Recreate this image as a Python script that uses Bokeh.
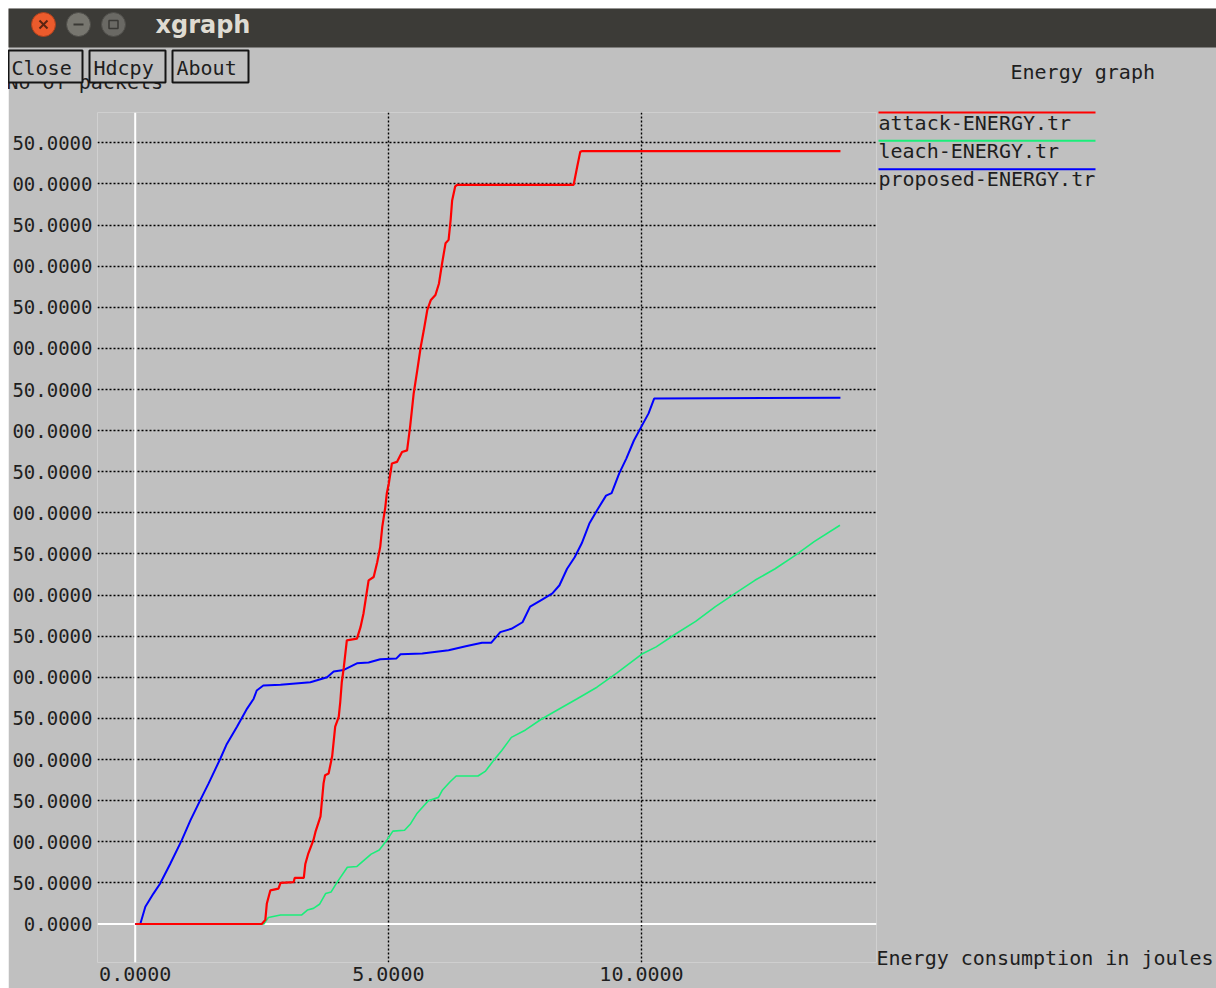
from bokeh.plotting import figure
from bokeh.models import Range1d, FixedTicker, Span
from bokeh.core.properties import value
from bokeh.embed import file_html
from bokeh.resources import INLINE

# ---------------- data ----------------
attack_x = [0, 2.50, 2.57, 2.60, 2.67, 2.83, 2.87, 3.13, 3.15, 3.33, 3.36, 3.42, 3.52, 3.56,
            3.66, 3.69, 3.72, 3.75, 3.82, 3.89, 3.95, 4.02, 4.05, 4.08, 4.12, 4.18, 4.38,
            4.45, 4.51, 4.55, 4.61, 4.71, 4.78, 4.84, 4.88, 4.94, 4.97, 5.01, 5.07, 5.17,
            5.27, 5.37, 5.43, 5.50, 5.57, 5.64, 5.70, 5.77, 5.84, 5.93, 6.00, 6.06, 6.13,
            6.19, 6.23, 6.26, 6.32, 6.36, 8.66, 8.73, 8.79, 8.83, 13.93]
attack_y = [0, 0, 5, 25, 41, 43, 50, 51, 56, 56, 73, 86, 102, 112,
            131, 151, 171, 181, 183, 204, 240, 252, 270, 294, 312, 345, 347,
            361, 378, 394, 418, 422, 440, 459, 483, 507, 524, 536, 560, 562,
            574, 576, 605, 645, 673, 702, 722, 747, 759, 765, 779, 803, 828,
            832, 856, 880, 897, 899, 899, 921, 939, 940, 940]

leach_x = [0, 2.54, 2.63, 2.87, 3.29, 3.40, 3.52, 3.64, 3.76, 3.87, 3.99, 4.19, 4.38,
           4.66, 4.82, 4.97, 5.09, 5.32, 5.44, 5.56, 5.79, 5.99, 6.07, 6.22, 6.34, 6.77,
           6.92, 7.08, 7.24, 7.43, 7.71, 8.02, 8.33, 8.73, 9.12, 9.51, 10.00, 10.29,
           10.68, 11.07, 11.46, 11.85, 12.24, 12.64, 13.03, 13.41, 13.92]
leach_y = [0, 0, 8, 11, 11, 17, 19, 24, 37, 39, 51, 69, 70,
           85, 90, 102, 113, 114, 122, 134, 150, 154, 163, 173, 180, 180,
           186, 199, 211, 227, 236, 249, 260, 274, 288, 305, 328, 337,
           353, 368, 386, 402, 418, 432, 448, 465, 485]

proposed_x = [0, 0.10, 0.20, 0.36, 0.49, 0.69, 0.92, 1.09, 1.28, 1.45, 1.68, 1.81, 2.01,
              2.21, 2.34, 2.40, 2.53, 2.87, 3.46, 3.79, 3.92, 4.12, 4.38, 4.61, 4.84, 5.16,
              5.24, 5.67, 6.19, 6.55, 6.85, 7.03, 7.21, 7.43, 7.65, 7.80, 8.02, 8.24, 8.38,
              8.53, 8.68, 8.82, 8.97, 9.12, 9.30, 9.41, 9.56, 9.70, 9.85, 9.99, 10.14,
              10.25, 13.93]
proposed_y = [0, 0, 21, 37, 49, 73, 102, 126, 150, 171, 201, 219, 240,
              262, 274, 284, 290, 291, 294, 300, 307, 309, 317, 318, 322, 323,
              328, 329, 333, 338, 342, 342, 355, 359, 367, 386, 394, 402, 412,
              432, 446, 463, 487, 503, 521, 524, 548, 566, 588, 604, 621,
              639, 640]

series_names = ["attack-ENERGY.tr", "leach-ENERGY.tr", "proposed-ENERGY.tr"]
series_colors = ["#ff0000", "#1aee7a", "#0000ff"]

x_ticks = [0, 5, 10]
x_tick_labels = ["0.0000", "5.0000", "10.0000"]
y_ticks = [0, 50, 100, 150, 200, 250, 300, 350, 400, 450,
           500, 550, 600, 650, 700, 750, 800, 850, 900, 950]
y_tick_labels = ["0.0000", "50.0000", "00.0000", "50.0000", "00.0000", "50.0000",
                 "00.0000", "50.0000", "00.0000", "50.0000", "00.0000", "50.0000",
                 "00.0000", "50.0000", "00.0000", "50.0000", "00.0000", "50.0000",
                 "00.0000", "50.0000"]

window_title = "xgraph"
button_labels = ["Close", "Hdcpy", "About"]
y_axis_title = "No of packets"
x_axis_title = "Energy consumption in joules"
chart_title = "Energy graph"

# ---------------- layout / style ----------------
W, H = 1208, 980
FL, FR, FT, FB = 89, 868, 104, 954          # frame edges in canvas pixels
BG = "#c0c0c0"
INK = "#1e1e1e"
MONO = "DejaVu Sans Mono"
FS = "20px"
TY = -8                                      # text baseline correction

p = figure(width=W, height=H,
           x_range=Range1d(-0.745, 14.642), y_range=Range1d(-46.8, 986.9),
           output_backend="svg", toolbar_location=None,
           min_border_left=FL, min_border_right=W - FR,
           min_border_top=FT, min_border_bottom=H - FB,
           background_fill_color=BG, border_fill_color=BG,
           outline_line_color=None,
           styles={"margin-left": "8px", "margin-top": "8px"})

for ax in (p.xaxis, p.yaxis):
    ax.axis_line_color = None
    ax.major_tick_line_color = None
    ax.minor_tick_line_color = None
    ax.major_tick_in = 0
    ax.major_tick_out = 0
    ax.major_label_text_font = MONO
    ax.major_label_text_color = INK

p.xaxis.ticker = FixedTicker(ticks=x_ticks)
p.xaxis.major_label_overrides = dict(zip(x_ticks, x_tick_labels))
p.xaxis.major_label_standoff = 4
p.xaxis.major_label_text_font_size = FS
p.yaxis.ticker = FixedTicker(ticks=y_ticks)
p.yaxis.major_label_overrides = dict(zip(y_ticks, y_tick_labels))
p.yaxis.major_label_standoff = 5
p.yaxis.major_label_text_font_size = "19px"

p.xgrid.ticker = FixedTicker(ticks=[t for t in x_ticks if t != 0])
p.ygrid.ticker = FixedTicker(ticks=[t for t in y_ticks if t != 0])
p.grid.grid_line_color = "#000000"
p.grid.grid_line_dash = "2 2"
p.grid.grid_line_width = 1.4
p.grid.grid_line_alpha = 1.0

p.add_layout(Span(location=0, dimension="height", line_color="white", line_width=2, level="underlay"))
p.add_layout(Span(location=0, dimension="width", line_color="white", line_width=2, level="underlay"))

for xs, ys, col, lw in ((leach_x, leach_y, series_colors[1], 1.6),
                        (proposed_x, proposed_y, series_colors[2], 2.0),
                        (attack_x, attack_y, series_colors[0], 2.2)):
    p.line(xs, ys, line_color=col, line_width=lw)

# ---------------- window decorations (canvas pixel coordinates) ----------------
p.extra_x_ranges = {"cx": Range1d(FL, FR)}
p.extra_y_ranges = {"cy": Range1d(FB, FT)}
kw = dict(x_range_name="cx", y_range_name="cy", level="overlay")

# title bar
p.quad(left=[0], right=[W], top=[0], bottom=[39], fill_color="#3c3b37", line_color=None, **kw)
cxs = [35, 70, 105]
p.quad(left=[c - 12 for c in cxs], right=[c + 12 for c in cxs], top=[4] * 3, bottom=[28] * 3,
       border_radius=12,
       fill_color=["#ec5b2c", "#77766f", "#6a6964"],
       line_color=["#a8401d", "#4e4d49", "#4e4d49"], line_width=1, **kw)
p.segment(x0=[31, 39], y0=[12, 12], x1=[39, 31], y1=[20, 20], line_color="#5a2412", line_width=2, **kw)
p.segment(x0=[65], y0=[16], x1=[75], y1=[16], line_color="#3a3935", line_width=2, **kw)
p.quad(left=[100.5], right=[109.5], top=[12], bottom=[20], fill_color=None, line_color="#3a3935",
       line_width=1.5, **kw)
p.text(x=[147], y=[24 + TY], text=[window_title], text_font=value("DejaVu Sans"), text_font_style="bold",
       text_font_size="24px", text_color="#dfdbd2", text_baseline="alphabetic", **kw)

txt = dict(text_font=value(MONO), text_font_size=FS, text_color=INK, text_baseline="alphabetic", **kw)

# y axis title partly hidden by the buttons
p.text(x=[-2], y=[81 + TY], text=[y_axis_title], **txt)

# buttons
p.quad(left=[0, 81, 164], right=[74, 157, 240], top=[42, 42, 42], bottom=[74, 74, 74],
       fill_color=BG, line_color="#141414", line_width=2, **kw)
p.text(x=[3, 85, 168], y=[67 + TY] * 3, text=button_labels, **txt)

# chart title
p.text(x=[1002], y=[71 + TY], text=[chart_title], **txt)

# legend
p.segment(x0=[870, 870, 870], y0=[104, 132.3, 160.7], x1=[1087, 1087, 1087], y1=[104, 132.3, 160.7],
          line_color=series_colors, line_width=2, **kw)
p.text(x=[870, 870, 870], y=[122 + TY, 150.3 + TY, 178.7 + TY], text=series_names, **txt)

# x axis title
p.text(x=[868], y=[957 + TY], text=[x_axis_title], **txt)

open("out.html", "w").write(file_html(p, INLINE))
